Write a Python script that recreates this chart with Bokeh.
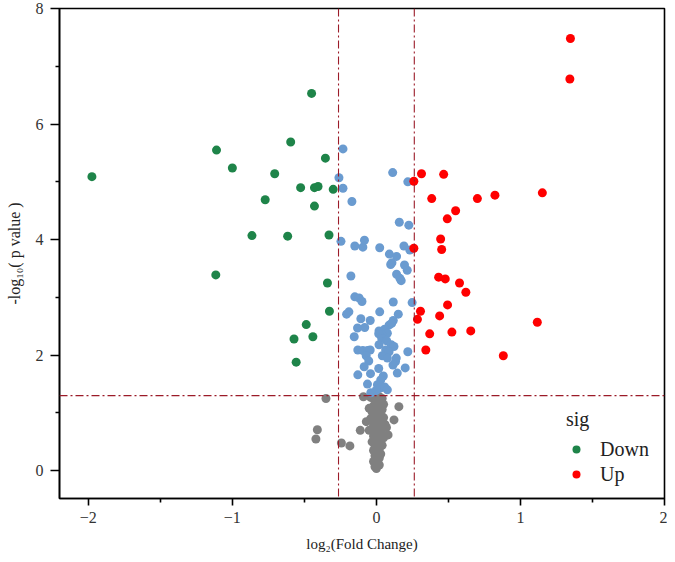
import math
from bokeh.plotting import figure
from bokeh.models import (Span, Legend, LegendItem, FixedTicker, Range1d)
from bokeh.embed import file_html
from bokeh.resources import INLINE

# ---------------- data ----------------
down_x = [-1.975, -0.45, -0.595, -1.11, -0.354, -1.0, -0.706, -0.526, -0.43, -0.405, -0.30,
          -0.772, -0.43, -0.864, -0.616, -0.329, -1.115, -0.34, -0.326, -0.487, -0.441,
          -0.572, -0.557]
down_y = [5.09, 6.53, 5.69, 5.55, 5.41, 5.24, 5.14, 4.90, 4.90, 4.92, 4.87,
          4.69, 4.58, 4.07, 4.06, 4.08, 3.39, 3.25, 2.76, 2.53, 2.32,
          2.28, 1.88]

up_x = [1.347, 1.343, 0.313, 0.467, 0.26, 0.384, 0.701, 0.823, 1.152, 0.55, 0.492,
        0.446, 0.453, 0.26, 0.432, 0.478, 0.577, 0.621, 0.494, 0.306, 0.439,
        0.285, 1.117, 0.37, 0.524, 0.655, 0.343, 0.881]
up_y = [7.48, 6.78, 5.14, 5.13, 5.01, 4.71, 4.71, 4.77, 4.81, 4.50, 4.36,
        4.01, 3.83, 3.85, 3.35, 3.32, 3.25, 3.09, 2.87, 2.76, 2.68,
        2.62, 2.57, 2.37, 2.40, 2.42, 2.09, 1.99]

stable_sig_x = [-0.232, 0.113, -0.26, 0.218, -0.232, -0.17, 0.159, 0.225, -0.246, -0.15,
                -0.094, -0.083, 0.023, 0.09, 0.14, 0.108, 0.099, 0.191, 0.232, 0.195,
                0.214, -0.177, 0.14, 0.163, 0.172, -0.15, -0.12, -0.10, 0.117, 0.248,
                -0.191, -0.207, 0.023, 0.152, -0.108, -0.043, 0.117, 0.088, 0.106, -0.081,
                -0.131, 0.018, 0.057, 0.076, 0.041, -0.154, 0.016, 0.037, 0.071, 0.103,
                0.122, 0.018, -0.129, -0.094, -0.062, -0.043, 0.218, 0.064, 0.088, 0.041,
                -0.071, -0.053, 0.138, 0.076, 0.133, -0.085, 0.115, 0.016, 0.20, 0.145,
                -0.041, -0.129, 0.048, 0.03, -0.062, 0.007, 0.026, 0.057, -0.002, 0.076,
                -0.039]
stable_sig_y = [5.57, 5.16, 5.07, 5.00, 4.89, 4.66, 4.30, 4.25, 3.97, 3.89,
                3.87, 3.99, 3.86, 3.75, 3.71, 3.60, 3.57, 3.89, 3.82, 3.56,
                3.47, 3.37, 3.40, 3.33, 3.29, 3.01, 2.99, 2.93, 2.92, 2.91,
                2.75, 2.71, 2.75, 2.71, 2.63, 2.60, 2.60, 2.52, 2.55, 2.48,
                2.47, 2.42, 2.45, 2.38, 2.35, 2.32, 2.37, 2.29, 2.25, 2.18,
                2.15, 2.18, 2.09, 2.08, 2.08, 2.09, 2.06, 2.09, 2.06, 1.99,
                1.99, 1.90, 1.95, 1.95, 1.89, 1.80, 1.83, 1.77, 1.78, 1.69,
                1.68, 1.66, 1.64, 1.57, 1.50, 1.49, 1.43, 1.45, 1.39, 1.40,
                1.35]

stable_x = [-0.35, -0.41, -0.42, -0.243, -0.184, -0.112, -0.09, -0.04, -0.05, 0.156,
            0.122, 0.081, 0.0, 0.02, 0.04, -0.01, 0.03, 0.05, -0.02, 0.01,
            0.04, -0.03, 0.0, 0.03, 0.05, -0.04, -0.01, 0.02, 0.06, -0.02,
            0.01, 0.04, -0.05, 0.0, 0.03, -0.02, 0.05, 0.01, -0.03, 0.02,
            0.04, -0.01, 0.02, -0.02, 0.01, 0.03, -0.01, 0.02, 0.0, -0.02,
            0.01, 0.02, -0.01, 0.0, -0.07, 0.07]
stable_y = [1.25, 0.71, 0.55, 0.48, 0.43, 0.70, 1.28, 1.27, 1.08, 1.11,
            0.88, 0.62, 1.30, 1.28, 1.25, 1.22, 1.18, 1.15, 1.12, 1.10,
            1.06, 1.02, 0.99, 0.96, 0.92, 0.90, 0.87, 0.84, 0.80, 0.78,
            0.75, 0.72, 0.70, 0.66, 0.63, 0.60, 0.57, 0.54, 0.50, 0.47,
            0.44, 0.41, 0.38, 0.35, 0.32, 0.29, 0.26, 0.22, 0.19, 0.16,
            0.13, 0.10, 0.07, 0.04, 0.85, 0.75]

fc_cutoff = math.log2(1.2)
p_cutoff = -math.log10(0.05)

x_ticks = [-2, -1, 0, 1, 2]
x_minor = [-1.5, -0.5, 0.5, 1.5]
y_ticks = [0, 2, 4, 6, 8]
y_minor = [1, 3, 5, 7]

col_down = "#1E8449"
col_up = "#FF0000"
col_sig = "#6A9BD0"
col_ns = "#808080"
ref_col = "#9B1B28"
FONT = "Liberation Serif"

# ---------------- figure ----------------
p = figure(width=667, height=554, output_backend="svg", toolbar_location=None,
           x_range=Range1d(-2.2, 2.0), y_range=Range1d(-0.48, 8.0),
           min_border_left=59, min_border_right=3, min_border_top=8, min_border_bottom=55)
p.background_fill_color = "white"
p.border_fill_color = "white"
p.xgrid.visible = False
p.ygrid.visible = False
p.outline_line_color = "black"
p.outline_line_width = 1.6

size = 9
p.scatter(stable_x, stable_y, size=size, color=col_ns, line_color=None)
p.scatter(stable_sig_x, stable_sig_y, size=size, color=col_sig, line_color=None)
r_down = p.scatter(down_x, down_y, size=size, color=col_down, line_color=None)
r_up = p.scatter(up_x, up_y, size=size, color=col_up, line_color=None)

for loc in (-fc_cutoff, fc_cutoff):
    p.add_layout(Span(location=loc, dimension="height", line_color=ref_col,
                      line_width=1.1, line_dash="8 3 2 3"))
p.add_layout(Span(location=p_cutoff, dimension="width", line_color=ref_col,
                  line_width=1.1, line_dash="8 3 2 3"))

for ax, ticks, minor in ((p.xaxis[0], x_ticks, x_minor), (p.yaxis[0], y_ticks, y_minor)):
    ax.ticker = FixedTicker(ticks=ticks, minor_ticks=minor)
    ax.axis_line_width = 1.6
    ax.axis_line_color = "black"
    ax.major_tick_line_width = 1.6
    ax.minor_tick_line_width = 1.6
    ax.major_tick_line_color = "black"
    ax.minor_tick_line_color = "black"
    ax.major_tick_in = 0
    ax.minor_tick_in = 0
    ax.major_label_text_font = FONT
    ax.major_label_text_font_size = "16px"
    ax.major_label_text_color = "#333333"
    ax.axis_label_text_font = FONT
    ax.axis_label_text_font_size = "15px"
    ax.axis_label_text_font_style = "normal"
    ax.axis_label_text_color = "#222222"

p.yaxis.axis_label_text_font_size = "16px"
p.xaxis.major_tick_out = 7
p.xaxis.minor_tick_out = 4
p.yaxis.major_tick_out = 9
p.yaxis.minor_tick_out = 4
p.xaxis.major_label_standoff = 6
p.yaxis.major_label_standoff = 7
p.xaxis.axis_label_standoff = 10
p.yaxis.axis_label_standoff = 10
p.xaxis.major_label_overrides = {-2: "\u22122", -1: "\u22121"}
p.xaxis.axis_label = "log\u2082(Fold Change)"
p.yaxis.axis_label = "-log\u2081\u2080( p value )"

legend = Legend(items=[LegendItem(label="Down", renderers=[r_down]),
                       LegendItem(label="Up", renderers=[r_up])],
                title="sig", location=(507, 12))
legend.title_text_font = FONT
legend.title_text_font_size = "20px"
legend.title_text_font_style = "normal"
legend.title_text_color = "#222222"
legend.title_standoff = 6
legend.label_text_font = FONT
legend.label_text_font_size = "20px"
legend.label_text_color = "#222222"
legend.glyph_width = 20
legend.glyph_height = 20
legend.label_standoff = 14
legend.label_height = 24
legend.spacing = 1
legend.padding = 2
legend.margin = 0
legend.border_line_color = None
legend.background_fill_alpha = 0
p.add_layout(legend)

open("out.html", "w").write(file_html(p, INLINE))
